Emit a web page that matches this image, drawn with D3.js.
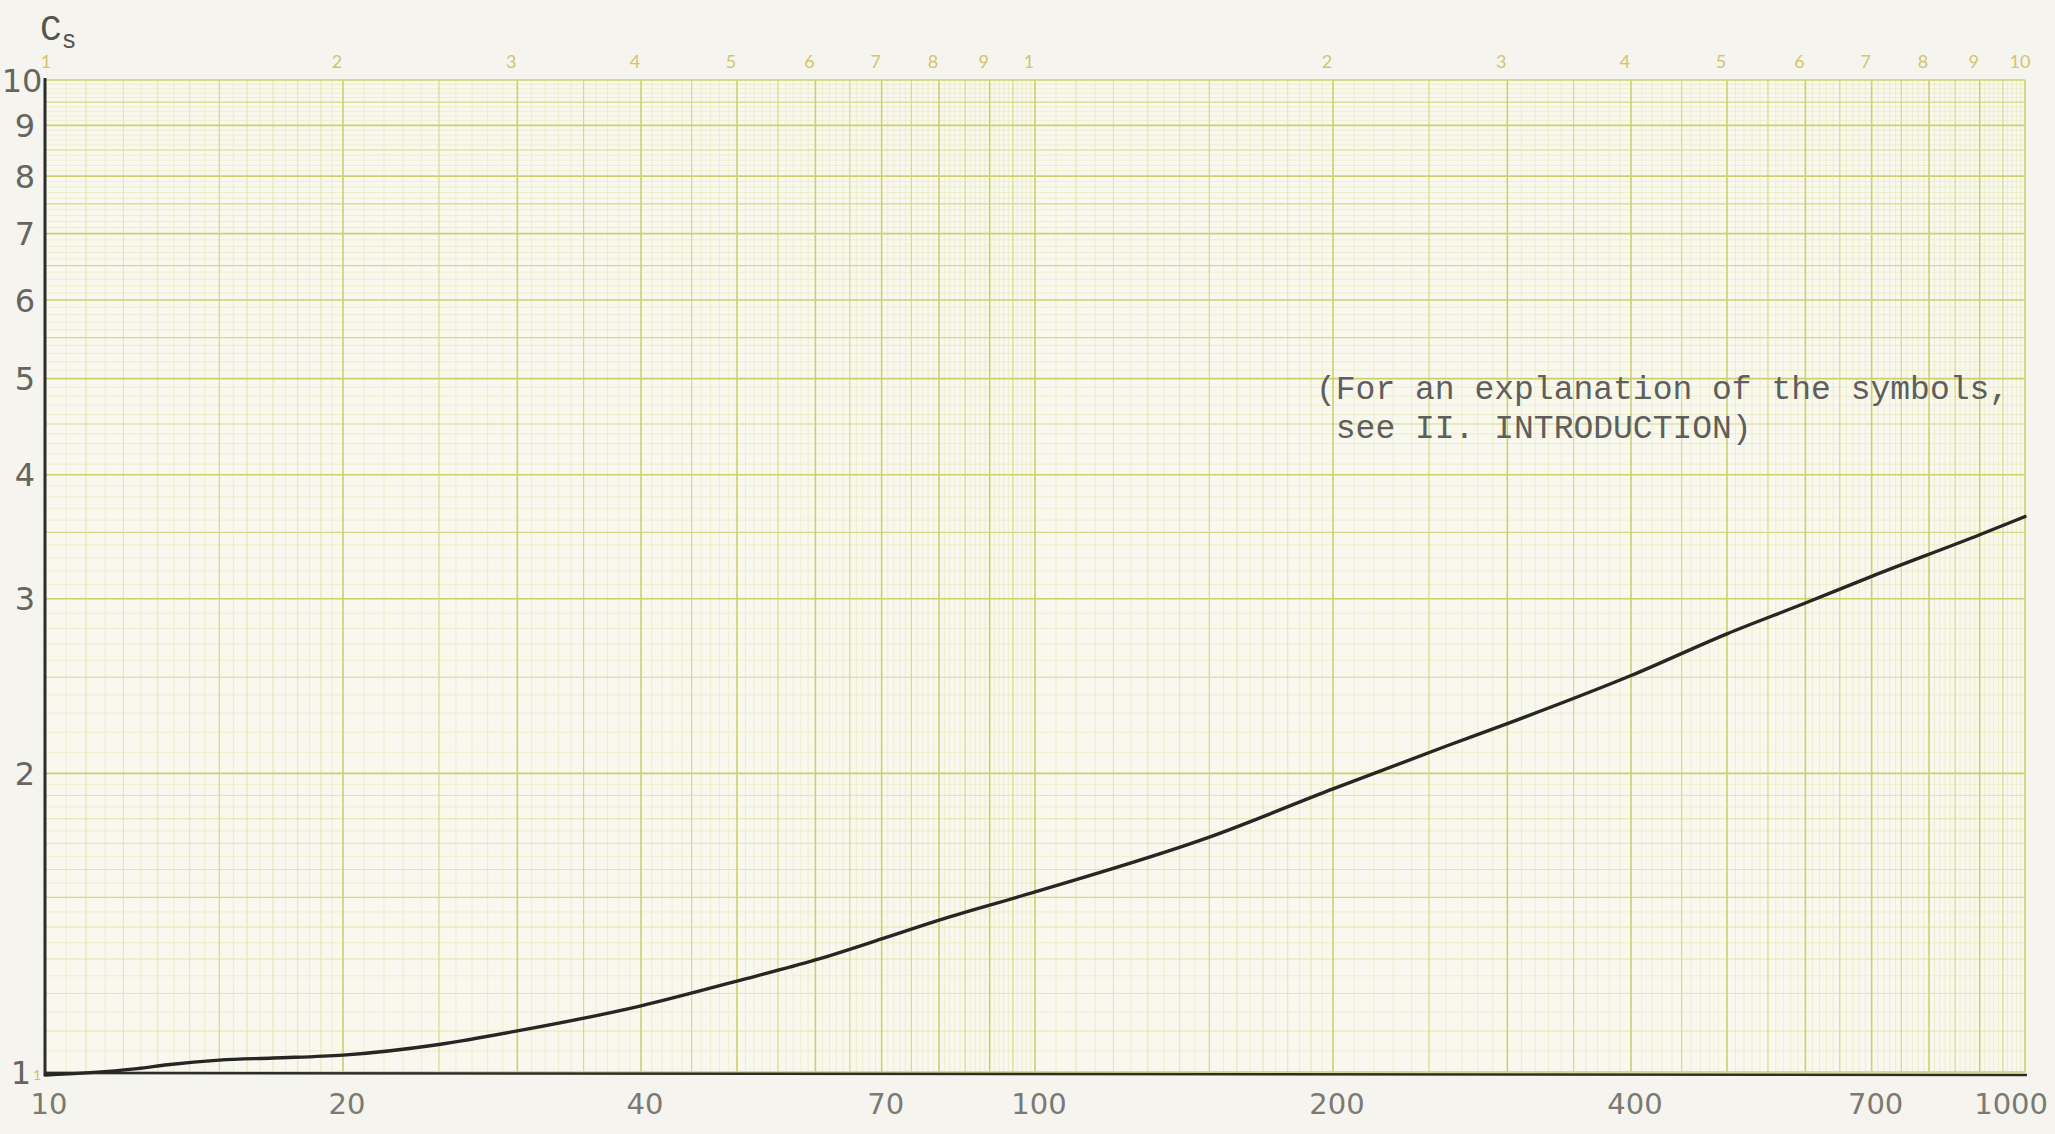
<!DOCTYPE html>
<html>
<head>
<meta charset="utf-8">
<script src="https://cdn.jsdelivr.net/npm/d3@7"></script>
<style>
  html, body { margin: 0; padding: 0; background: #f5f4ee; }
  svg { display: block; }
</style>
</head>
<body>
<svg id="chart" width="2055" height="1134"></svg>
<script>
// ---- data ----
const xValues  = [10, 11, 12.4, 13.3, 15, 17, 20, 25, 30, 40, 50, 60, 70, 80, 100, 150, 200, 260, 300, 400, 500, 600, 700, 900, 1000];
const csValues = [0.993, 0.998, 1.008, 1.017, 1.028, 1.033, 1.04, 1.066, 1.10, 1.166, 1.235, 1.297, 1.362, 1.423, 1.519, 1.725, 1.929, 2.13, 2.245, 2.51, 2.765, 2.97, 3.16, 3.48, 3.63];

const bottomTicks = [10, 20, 40, 70, 100, 200, 400, 700, 1000];
const leftTicks   = [1, 2, 3, 4, 5, 6, 7, 8, 9, 10];
const topPaperLabels = ["1","2","3","4","5","6","7","8","9","1","2","3","4","5","6","7","8","9","10"];
const yAxisLabel = "C";
const yAxisSub = "s";
const noteLines = ["(For an explanation of the symbols,", " see II. INTRODUCTION)"];

// ---- layout ----
const L = 45, R = 2025, T = 80, B = 1072;
const x = d3.scaleLog().domain([10, 1000]).range([L, R]);
const y = d3.scaleLog().domain([1, 10]).range([B, T]);

const svg = d3.select("#chart");

// plot background (graph paper)
svg.append("rect").attr("x", L).attr("y", T).attr("width", R - L).attr("height", B - T)
  .attr("fill", "#f9f8ee");

// graph paper line pattern within one cycle (mantissa values 1..10)
function paperLines() {
  const out = [];
  const add = (m, tier) => out.push({ m: +m.toFixed(3), tier });
  for (let i = 0; i <= 20; i++) {
    const m = +(1 + i * 0.05).toFixed(3);
    add(m, Number.isInteger(m) ? 0 : (Math.abs(m - 1.5) < 1e-6 ? 1 : (i % 2 === 0 ? 2 : 3)));
  }
  for (let i = 1; i <= 80; i++) {
    const r = +(2 + i * 0.1).toFixed(3);
    add(r, Number.isInteger(r) ? 0 : (Math.abs(r % 1 - 0.5) < 1e-6 ? 1 : 3));
  }
  return out;
}
const cyc = paperLines();
const tierStyle = [
  { c: "#cdd06c", w: 1.6 },
  { c: "#d6d987", w: 1.2 },
  { c: "#e0e2a6", w: 0.9 },
  { c: "#e8e9c0", w: 0.7 }
];

const xGrid = [];
[10, 100].forEach(dec => cyc.forEach(d => {
  if (dec === 100 && d.m === 1) return;
  xGrid.push({ v: d.m * dec, tier: d.tier });
}));
const yGrid = cyc.map(d => ({ v: d.m, tier: d.tier }));

const grid = svg.append("g");
[3, 2, 1, 0].forEach(t => {
  grid.selectAll(null).data(xGrid.filter(d => d.tier === t)).enter().append("line")
    .attr("x1", d => x(d.v)).attr("x2", d => x(d.v)).attr("y1", T).attr("y2", B)
    .attr("stroke", tierStyle[t].c).attr("stroke-width", tierStyle[t].w);
  grid.selectAll(null).data(yGrid.filter(d => d.tier === t)).enter().append("line")
    .attr("y1", d => y(d.v)).attr("y2", d => y(d.v)).attr("x1", L).attr("x2", R)
    .attr("stroke", tierStyle[t].c).attr("stroke-width", tierStyle[t].w);
});

// printed paper labels along the top
const topVals = [];
[10, 100].forEach(dec => { for (let m = 1; m <= 9; m++) topVals.push(m * dec); });
topVals.push(1000);
svg.append("g").selectAll("text").data(topVals).enter().append("text")
  .attr("x", (d, i) => i === 0 ? L + 1 : (i === topVals.length - 1 ? R - 5 : x(d) - 6))
  .attr("y", 68)
  .attr("text-anchor", "middle")
  .attr("font-family", "Lato, 'DejaVu Sans', sans-serif")
  .attr("font-size", 18)
  .attr("fill", "#d2c56e")
  .text((d, i) => topPaperLabels[i]);

// small printed "1" at bottom-left of paper
svg.append("text").attr("x", 33).attr("y", B + 8).attr("font-family", "Lato, sans-serif")
  .attr("font-size", 14).attr("fill", "#cdc566").text("1");

// axes lines (inked)
svg.append("line").attr("x1", L).attr("x2", L).attr("y1", T - 2).attr("y2", B + 2)
  .attr("stroke", "#2c2c2a").attr("stroke-width", 3);
svg.append("line").attr("x1", L).attr("x2", R + 2).attr("y1", y(1) + 1).attr("y2", y(1) + 3)
  .attr("stroke", "#2c2c2a").attr("stroke-width", 2.6);

// left axis labels (lettering)
svg.append("g").selectAll("text").data(leftTicks).enter().append("text")
  .attr("x", d => d === 10 ? 22 : (d === 1 ? 21 : 25))
  .attr("y", d => y(d))
  .attr("dy", "0.36em")
  .attr("text-anchor", "middle")
  .attr("font-family", "'DejaVu Sans', sans-serif")
  .attr("font-size", 32)
  .attr("fill", "#66665f")
  .text(d => d);

// bottom axis labels
svg.append("g").selectAll("text").data(bottomTicks).enter().append("text")
  .attr("x", d => d === 1000 ? 2048 : x(d) + 4)
  .attr("y", 1114)
  .attr("text-anchor", d => d === 1000 ? "end" : "middle")
  .attr("font-family", "'DejaVu Sans', sans-serif")
  .attr("font-size", 29)
  .attr("fill", "#7a7a73")
  .text(d => d);

// y axis title C_s
const title = svg.append("text").attr("x", 40).attr("y", 40)
  .attr("font-family", "'Liberation Mono', 'DejaVu Sans Mono', monospace")
  .attr("font-size", 36).attr("fill", "#55554f");
title.append("tspan").text(yAxisLabel);
title.append("tspan").attr("font-size", 25).attr("dy", 8).text(yAxisSub);

// annotation (typewritten)
svg.append("g").selectAll("text").data(noteLines).enter().append("text")
  .attr("x", 1316)
  .attr("y", (d, i) => 399 + i * 39)
  .style("white-space", "pre")
  .attr("font-family", "'Liberation Mono', 'DejaVu Sans Mono', monospace")
  .attr("font-size", 33)
  .attr("fill", "#5e5e5a")
  .text(d => d);

// the curve
const pts = xValues.map((v, i) => [v, csValues[i]]);
const line = d3.line().x(d => x(d[0])).y(d => y(d[1])).curve(d3.curveMonotoneX);
svg.append("path").datum(pts).attr("d", line)
  .attr("fill", "none").attr("stroke", "#262624").attr("stroke-width", 3.4)
  .attr("stroke-linecap", "round").attr("stroke-linejoin", "round");
</script>
</body>
</html>
